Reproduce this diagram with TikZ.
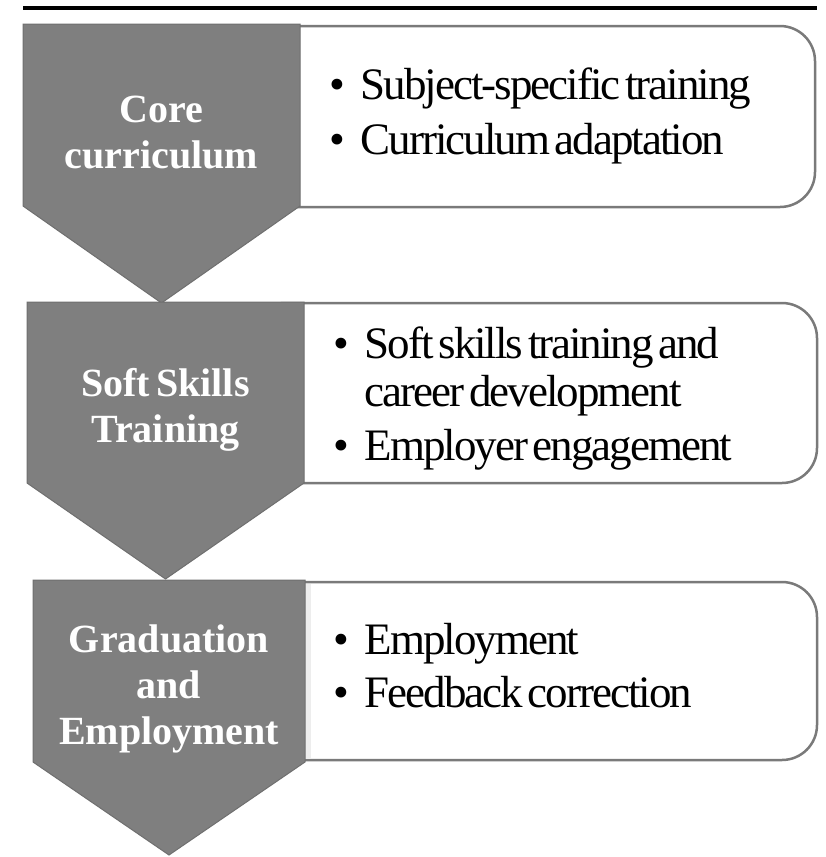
\documentclass[tikz,border=0pt]{standalone}
\usepackage{fontspec}
\setmainfont{Liberation Serif}
\newfontfamily\itemfont[LetterSpace=-4.5,WordSpace=0.5]{Liberation Serif}
\newfontfamily\headfont[WordSpace=0.6]{Liberation Serif}

\definecolor{chevfill}{HTML}{7F7F7F}
\definecolor{chevedge}{HTML}{6F6F6F}
\definecolor{boxedge}{HTML}{7A7A7A}
\definecolor{edgeglow}{HTML}{EDEDED}

\tikzset{
  chevron/.style={fill=chevfill, draw=chevedge, line width=1pt, line join=miter},
  listbox/.style={draw=boxedge, fill=white, line width=2.5pt, rounded corners=35pt},
  steplabel/.style={text=white, align=center, inner sep=0pt,
    font=\headfont\bfseries\fontsize{40}{46}\selectfont},
  itemlist/.style={anchor=base west, inner sep=0pt, text=black,
    font=\itemfont\fontsize{45}{48}\selectfont},
}

% bulleted list with hanging indent
\newcommand{\blist}[1]{%
  \begin{tabular}[t]{@{}l@{\hspace{16pt}}l@{}}#1\end{tabular}}

\begin{document}
\begin{tikzpicture}[x=1pt,y=-1pt]
  \useasboundingbox (0,0) rectangle (825,857);
  \fill[white] (0,0) rectangle (825,857);

  % rule across the top
  \coordinate (ruleL) at (23,8);
  \coordinate (ruleR) at (817,8);
  \draw[line width=4pt] (ruleL) -- (ruleR);

  % text panels (left side hidden below the chevrons)
  \draw[listbox] (250,26)  rectangle (815,207);
  \draw[listbox] (250,303) rectangle (817,483);
  \draw[listbox] (250,582) rectangle (817,760);
  \fill[edgeglow] (305,583.5) rectangle (311,758.5);

  % chevrons
  \draw[chevron] (23,24) -- (300,24) -- (300,206) -- (161.5,303) -- (23,206) -- cycle;
  \draw[chevron] (27,302) -- (304,302) -- (304,483) -- (165.5,579) -- (27,483) -- cycle;
  \draw[chevron] (33,580) -- (305,580) -- (305,762) -- (169,855) -- (33,762) -- cycle;

  % step titles
  \node[steplabel] (t1) at (161.5,132) {Core\\curriculum};
  \node[steplabel] (t2) at (165.5,410) {Soft Skills\\Training};
  \node[steplabel] (t3) at (169,689) {Graduation\\and\\Employment};

  % bullet lists
  \node[itemlist] (l1) at (329,99) {\blist{\textbullet & Subject-specific training\\[7pt]
      \textbullet & Curriculum adaptation}};
  \node[itemlist] (l2) at (333,358) {\blist{\textbullet & Soft skills training and\\
      & career development\\[6pt]
      \textbullet & Employer engagement}};
  \node[itemlist] (l3) at (333,654) {\blist{\textbullet & Employment\\[5pt]
      \textbullet & Feedback correction}};
\end{tikzpicture}
\end{document}
